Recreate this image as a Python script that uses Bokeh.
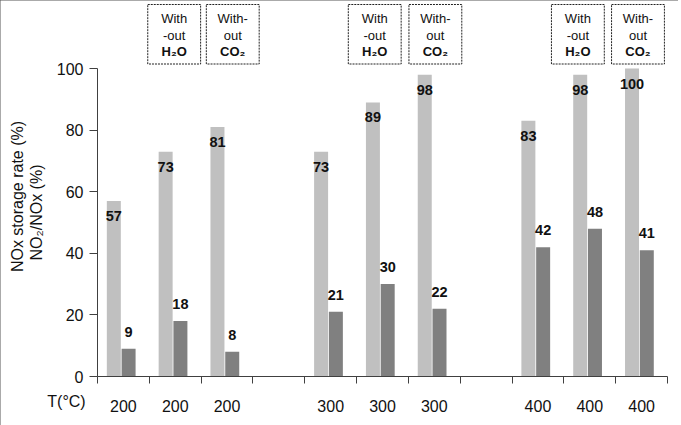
import numpy as np
from bokeh.plotting import figure
from bokeh.models import Range1d, FixedTicker, ColumnDataSource
from bokeh.core.properties import value
from bokeh.embed import file_html
from bokeh.resources import INLINE

# ---------------- data ----------------
temperatures = ["200", "200", "200", "300", "300", "300", "400", "400", "400"]
conditions = ["standard", "without H2O", "without CO2"] * 3
nox_storage_rate = [57, 73, 81, 73, 89, 98, 83, 98, 100]
no2_nox_ratio = [9, 18, 8, 21, 30, 22, 42, 48, 41]
y_ticks = [0, 20, 40, 60, 80, 100]
box_lines = {
    "without H2O": ["With", "-out", "H\u2082O"],
    "without CO2": ["With-", "out", "CO\u2082"],
}
x_title = "T(°C)"
y_title_1 = "NOx storage rate (%)"
y_title_2 = "NO\u2082/NOx (%)"

# ---------------- style ----------------
W, H = 678, 425
FONT = "Liberation Sans"
LIGHT = "#c0c0c0"
DARK = "#808080"
AX = "#404040"
TXT = "#111111"
LIGHT_OFF, DARK_OFF, BAR_W = -0.185, 0.10, 0.27
BOX_NUDGE = [-0.02, 0.11, -0.15, 0.02, -0.23, -0.07]
BOX_W = 1.02
PX_X = 51.82   # pixels per slot
PX_Y = 3.08    # pixels per percent
X0, Y0 = 97, 376  # pixel position of the origin

slots = [i + i // 3 for i in range(len(temperatures))]  # empty slot between groups
n_slots = slots[-1] + 1
centers = [s + 0.5 for s in slots]

p = figure(width=W, height=H, output_backend="svg", toolbar_location=None,
           x_range=Range1d(-X0 / PX_X, (W - X0) / PX_X),
           y_range=Range1d(-(H - Y0) / PX_Y, Y0 / PX_Y),
           min_border=0, min_border_left=0, min_border_right=0,
           min_border_top=0, min_border_bottom=0)
p.xgrid.visible = False
p.ygrid.visible = False
p.outline_line_color = None
p.background_fill_color = "white"
p.styles = {"outline": "2px solid #555555", "outline-offset": "-2px"}

src = ColumnDataSource(dict(
    xl=[c + LIGHT_OFF for c in centers],
    xd=[c + DARK_OFF for c in centers],
    light=nox_storage_rate,
    dark=no2_nox_ratio,
    ly=[v - 15 / PX_Y for v in nox_storage_rate],
    dy=[v + 17 / PX_Y for v in no2_nox_ratio],
    lt=[str(v) for v in nox_storage_rate],
    dt=[str(v) for v in no2_nox_ratio],
))
p.vbar(x="xl", top="light", width=BAR_W, source=src, fill_color=LIGHT, line_color=None)
p.vbar(x="xd", top="dark", width=BAR_W, source=src, fill_color=DARK, line_color=None)
for xcol, ycol, tcol in (("xl", "ly", "lt"), ("xd", "dy", "dt")):
    p.text(x=xcol, y=ycol, text=tcol, source=src, text_align="center",
           text_baseline="middle", text_font=value(FONT), text_font_style="bold",
           text_font_size="14.5px", text_color=TXT)

# condition boxes above the plot
bx, b1, b2, b3 = [], [], [], []
k = 0
for c, cond in zip(centers, conditions):
    if cond in box_lines:
        bx.append(c + BOX_NUDGE[k])
        k += 1
        b1.append(box_lines[cond][0])
        b2.append(box_lines[cond][1])
        b3.append(box_lines[cond][2])
p.quad(left=[x - BOX_W / 2 for x in bx], right=[x + BOX_W / 2 for x in bx],
       top=(Y0 - 4) / PX_Y, bottom=(Y0 - 63.5) / PX_Y, fill_color=None,
       line_color="#222222", line_dash="2 1", line_width=1)
for txt, ypx, st in ((b1, 18, "normal"), (b2, 34.5, "normal"), (b3, 50.5, "bold")):
    p.text(x=bx, y=[(Y0 - ypx) / PX_Y] * len(bx), text=txt, text_align="center",
           text_baseline="middle", text_font=value(FONT), text_font_style=st,
           text_font_size="13px", text_color=TXT)

# y axis, fixed at x = 0
ya = p.yaxis[0]
ya.fixed_location = 0
ya.bounds = (0, 100)
ya.ticker = FixedTicker(ticks=y_ticks)
ya.major_tick_in = 0
ya.major_tick_out = 8
ya.minor_tick_out = 0
ya.minor_tick_in = 0
ya.axis_line_color = AX
ya.major_tick_line_color = AX
ya.major_label_text_font = FONT
ya.major_label_text_font_size = "16px"
ya.major_label_text_color = TXT
ya.major_label_standoff = 6

# x axis, fixed at y = 0
xa = p.xaxis[0]
xa.fixed_location = 0
xa.bounds = (0, n_slots)
xa.ticker = FixedTicker(ticks=centers, minor_ticks=list(range(n_slots + 1)))
xa.major_label_overrides = {c: t for c, t in zip(centers, temperatures)}
xa.major_tick_in = 0
xa.major_tick_out = 0
xa.minor_tick_in = 0
xa.minor_tick_out = 7
xa.axis_line_color = AX
xa.minor_tick_line_color = AX
xa.major_label_text_font = FONT
xa.major_label_text_font_size = "16px"
xa.major_label_text_color = TXT
xa.major_label_standoff = 16

# axis titles
p.text(x=[(66 - X0) / PX_X], y=[(Y0 - 401) / PX_Y], text=[x_title], text_align="center",
       text_baseline="middle", text_font=value(FONT), text_font_size="16px", text_color=TXT)
p.text(x=[(17 - X0) / PX_X, (36 - X0) / PX_X], y=[(Y0 - 196) / PX_Y, (Y0 - 212) / PX_Y],
       text=[y_title_1, y_title_2], angle=np.pi / 2, text_align="center",
       text_baseline="middle", text_font=value(FONT), text_font_size="16px", text_color=TXT)

open("out.html", "w").write(file_html(p, INLINE))
